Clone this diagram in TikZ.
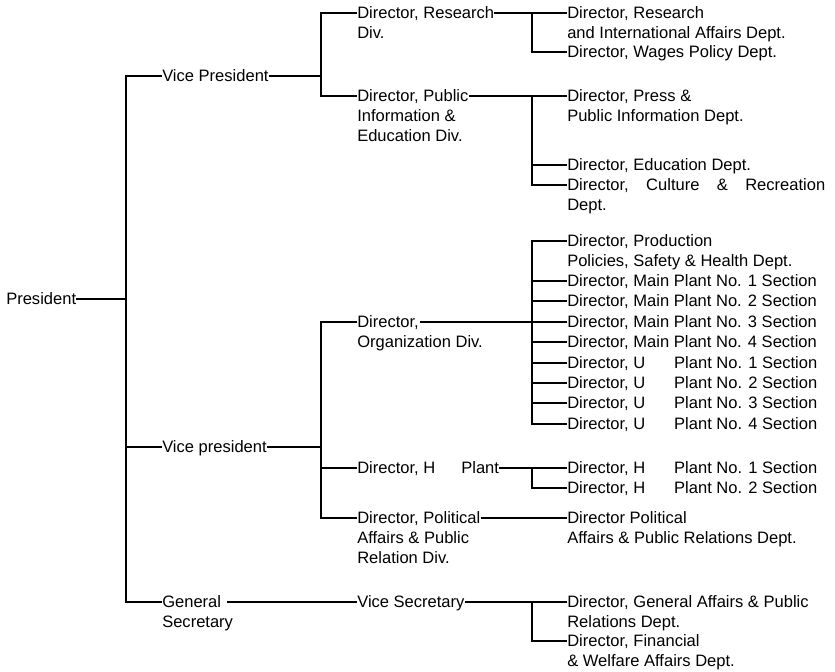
\documentclass[tikz,border=0pt]{standalone}
\usepackage{fontspec}
\setmainfont{Liberation Sans}
\newcommand\ml[1]{\begin{tabular}[t]{@{}l@{}}#1\end{tabular}}
\newcommand\secbox[1]{\makebox[187.5pt][l]{#1}}
\begin{document}
\begin{tikzpicture}[x=0.75pt,y=-0.75pt,
  lbl/.style={inner sep=0pt, anchor=west, text height=8pt, text depth=0.5pt,
              font=\fontsize{12.4}{15.3}\selectfont},
  conn/.style={line width=0.9pt}]
\fill[white] (0,0) rectangle (835,671);
\useasboundingbox (0,0) rectangle (835,671);
% junction columns
\coordinate (T) at (126,0);
\coordinate (A) at (321,0);
\coordinate (B) at (532,0);
% level 0-1
\node[lbl] (pres) at (6,299) {President};
\node[lbl] (vp) at (162,76) {Vice President};
\node[lbl] (vp2) at (162,447) {Vice president};
\node[lbl] (gs) at (162,602) {\ml{General\\Secretary}};
% level 2
\node[lbl] (res) at (357,13) {\ml{Director, Research\\Div.}};
\node[lbl] (pub) at (357,96) {\ml{Director, Public\\Information \&\\Education Div.}};
\node[lbl] (org) at (357,322) {\ml{Director,\\Organization Div.}};
\node[lbl] (hpl) at (357,468) {Director, H\hspace{19.5pt}Plant};
\node[lbl] (pol) at (357,518) {\ml{Director, Political\\Affairs \& Public\\Relation Div.}};
\node[lbl] (vs) at (357,602) {Vice Secretary};
% level 3
\node[lbl] (r1) at (567,13) {\ml{Director, Research\\and International Affairs Dept.}};
\node[lbl] (r2) at (567,52) {Director, Wages Policy Dept.};
\node[lbl] (p1) at (567,96) {\ml{Director, Press \&\\Public Information Dept.}};
\node[lbl] (p2) at (567,165) {Director, Education Dept.};
\node[lbl] (p3) at (567,185) {\ml{\makebox[193.5pt]{Director,\hfill Culture\hfill\&\hfill Recreation}\\Dept.}};
\node[lbl] (o1) at (567,241) {\ml{Director, Production\\Policies, Safety \& Health Dept.}};
\node[lbl] (o2) at (567,281) {Director, Main Plant No. 1 Section};
\node[lbl] (o3) at (567,301) {Director, Main Plant No. 2 Section};
\node[lbl] (o4) at (567,322) {Director, Main Plant No. 3 Section};
\node[lbl] (o5) at (567,342) {Director, Main Plant No. 4 Section};
\node[lbl] (o6) at (567,363) {\secbox{Director, U\hfill Plant No. 1 Section}};
\node[lbl] (o7) at (567,383) {\secbox{Director, U\hfill Plant No. 2 Section}};
\node[lbl] (o8) at (567,403) {\secbox{Director, U\hfill Plant No. 3 Section}};
\node[lbl] (o9) at (567,424) {\secbox{Director, U\hfill Plant No. 4 Section}};
\node[lbl] (h1) at (567,468) {\secbox{Director, H\hfill Plant No. 1 Section}};
\node[lbl] (h2) at (567,488) {\secbox{Director, H\hfill Plant No. 2 Section}};
\node[lbl] (pp) at (567,518) {\ml{Director Political\\Affairs \& Public Relations Dept.}};
\node[lbl] (g1) at (567,602) {\ml{Director, General Affairs \& Public\\Relations Dept.}};
\node[lbl] (g2) at (567,641) {\ml{Director, Financial\\\& Welfare Affairs Dept.}};
% first-line ends of nodes whose first line is not the widest
\coordinate (orgE) at ([xshift=47pt]org.west);
\coordinate (gsE) at ([xshift=49pt]gs.west);
% connectors: president trunk
\draw[conn] (pres.east) -- (pres.east -| T);
\draw[conn] (vp.west) -- (vp.west -| T) -- (gs.west -| T) -- (gs.west);
\draw[conn] (vp2.west -| T) -- (vp2.west);
% vice president 1
\draw[conn] (vp.east) -- (vp.east -| A);
\draw[conn] (res.west) -- (res.west -| A) -- (pub.west -| A) -- (pub.west);
\draw[conn] (res.east) -- (res.east -| B);
\draw[conn] (r1.west) -- (r1.west -| B) -- (r2.west -| B) -- (r2.west);
\draw[conn] (pub.east) -- (pub.east -| B);
\draw[conn] (p1.west) -- (p1.west -| B) -- (p3.west -| B) -- (p3.west);
\draw[conn] (p2.west -| B) -- (p2.west);
% vice president 2
\draw[conn] (vp2.east) -- (vp2.east -| A);
\draw[conn] (org.west) -- (org.west -| A) -- (pol.west -| A) -- (pol.west);
\draw[conn] (hpl.west -| A) -- (hpl.west);
\draw[conn] (orgE) -- (o4.west);
\draw[conn] (o1.west) -- (o1.west -| B) -- (o9.west -| B) -- (o9.west);
\foreach \i in {2,3,5,6,7,8} \draw[conn] (o\i.west -| B) -- (o\i.west);
\draw[conn] (hpl.east) -- (h1.west);
\draw[conn] (h1.west -| B) -- (h2.west -| B) -- (h2.west);
\draw[conn] (pol.east) -- (pp.west);
% general secretary
\draw[conn] (gsE) -- (vs.west);
\draw[conn] (vs.east) -- (g1.west);
\draw[conn] (g1.west -| B) -- (g2.west -| B) -- (g2.west);
\end{tikzpicture}
\end{document}
